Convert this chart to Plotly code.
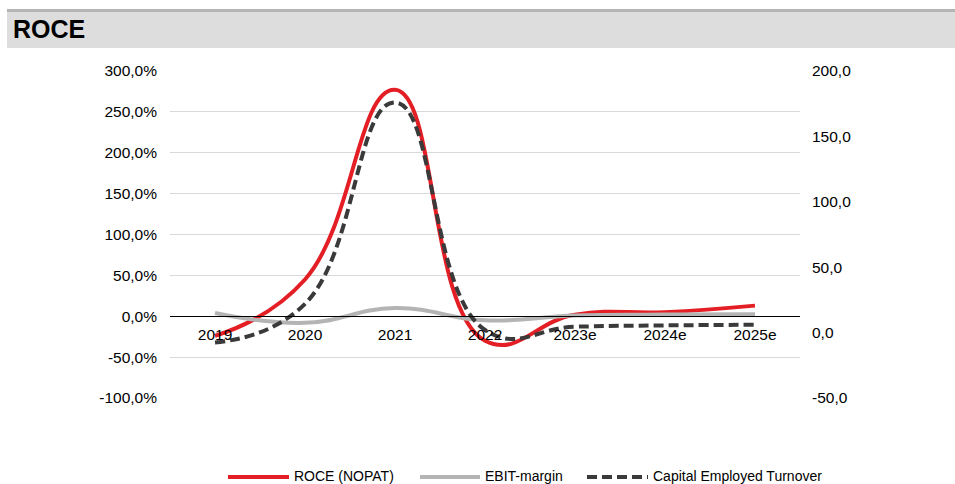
import plotly.graph_objects as go

# ---- data ----
years = ["2019", "2020", "2021", "2022", "2023e", "2024e", "2025e"]
roce_nopat = [-24.0, 45.0, 277.0, -30.0, 2.0, 5.0, 13.0]        # %
ebit_margin = [4.0, -8.0, 10.0, -5.0, 1.0, 2.0, 2.5]             # %
cap_employed_turnover = [-7.5, 22.0, 176.0, 2.0, 4.5, 5.5, 6.0]  # x

left_ticks = [-100, -50, 0, 50, 100, 150, 200, 250, 300]
right_ticks = [-50, 0, 50, 100, 150, 200]

FONT = "Liberation Sans, Arial, sans-serif"
W, H = 955, 484
L, R, T, B = 170, 155, 71, 86
PW, PH = W - L - R, H - T - B


def px_x(px):
    return (px - L) / PW


def px_y(py):
    return (H - B - py) / PH


def fmt(v, suffix=""):
    return f"{v:.1f}".replace(".", ",") + suffix


series = [
    dict(name="ROCE (NOPAT)", y=roce_nopat, axis="y",
         line=dict(color="#E31E24", width=4), lx=(228, 289)),
    dict(name="EBIT-margin", y=ebit_margin, axis="y",
         line=dict(color="#B4B4B4", width=4), lx=(420, 480)),
    dict(name="Capital Employed Turnover", y=cap_employed_turnover, axis="y2",
         line=dict(color="#3A3A3A", width=4, dash="10px,5px"), lx=(587, 648)),
]

fig = go.Figure()
shapes = [
    # header band
    dict(type="rect", xref="paper", yref="paper",
         x0=px_x(7), x1=px_x(955), y0=px_y(48), y1=px_y(11),
         fillcolor="#DDDDDD", line=dict(width=0), layer="below"),
    dict(type="rect", xref="paper", yref="paper",
         x0=px_x(7), x1=px_x(955), y0=px_y(12), y1=px_y(9),
         fillcolor="#B4B4B4", line=dict(width=0), layer="below"),
]
annotations = [
    dict(text="<b>ROCE</b>", xref="paper", yref="paper",
         x=px_x(11), y=px_y(29), xanchor="left", yanchor="middle",
         showarrow=False, font=dict(size=25, family=FONT, color="#000000")),
]

LEG_Y = 477
for s in series:
    fig.add_trace(go.Scatter(
        x=years, y=s["y"], name=s["name"], mode="lines", yaxis=s["axis"],
        line=dict(shape="spline", smoothing=1.3, **s["line"]),
    ))
    # legend entry: sample line + label
    x0, x1 = s["lx"]
    shapes.append(dict(type="line", xref="paper", yref="paper",
                       x0=px_x(x0), x1=px_x(x1), y0=px_y(LEG_Y), y1=px_y(LEG_Y),
                       line=s["line"]))
    annotations.append(dict(text=s["name"], xref="paper", yref="paper",
                            x=px_x(x1 + 4), y=px_y(LEG_Y - 1.5), xanchor="left",
                            yanchor="middle", showarrow=False, borderpad=0,
                            font=dict(size=14, family=FONT, color="#000000")))

fig.update_layout(
    width=W, height=H,
    margin=dict(l=L, r=R, t=T, b=B, autoexpand=False),
    paper_bgcolor="white", plot_bgcolor="white",
    font=dict(family=FONT, size=15.5, color="#000000"),
    showlegend=False,
    xaxis=dict(
        type="category", range=[-0.5, 6.5],
        anchor="free", position=0.25,
        showline=True, linecolor="#000000", linewidth=1,
        showgrid=False, ticks="", ticklabelstandoff=4,
    ),
    yaxis=dict(
        range=[-100, 300], tickvals=left_ticks,
        ticktext=[fmt(v, "%") for v in left_ticks],
        showgrid=True, gridcolor="#D9D9D9", gridwidth=1,
        zeroline=False, showline=False, ticks="",
        ticklabelstandoff=12,
    ),
    yaxis2=dict(
        range=[-50, 200], tickvals=right_ticks,
        ticktext=[fmt(v) for v in right_ticks],
        overlaying="y", side="right",
        showgrid=False, zeroline=False, showline=False, ticks="",
        ticklabelstandoff=11,
    ),
    shapes=shapes,
    annotations=annotations,
)

fig.write_html("out.html")
